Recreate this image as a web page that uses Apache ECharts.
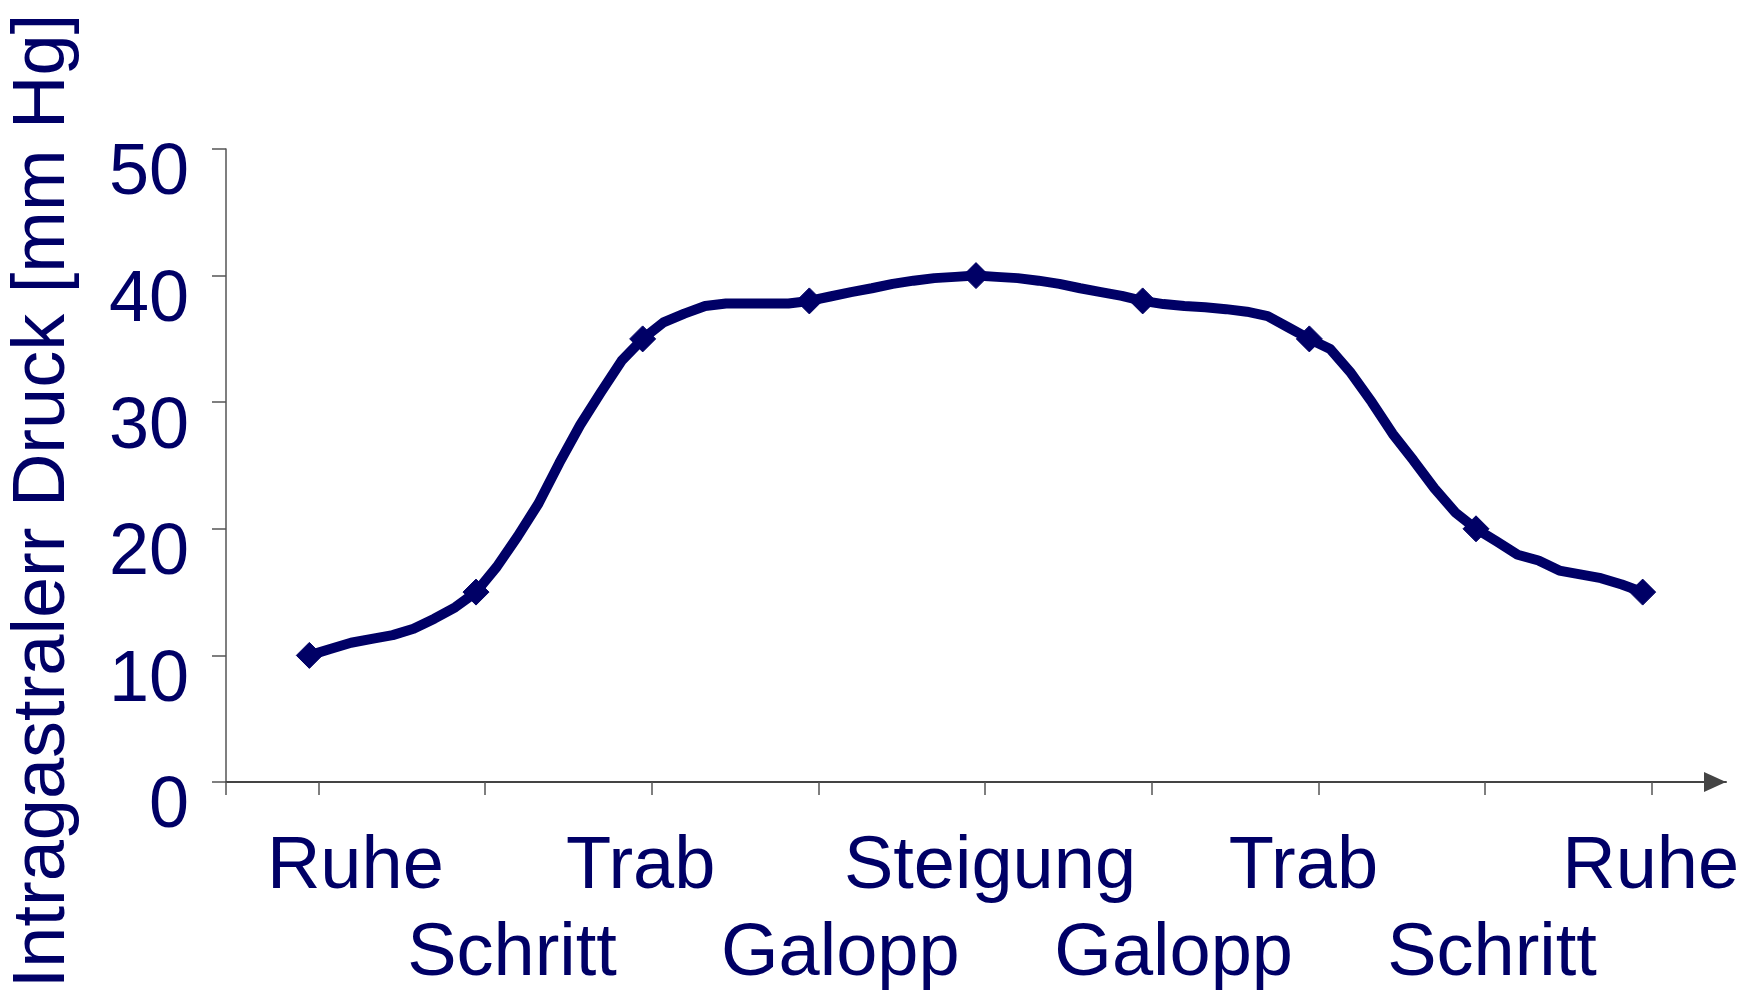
<!DOCTYPE html>
<html>
<head>
<meta charset="utf-8">
<script src="https://cdn.jsdelivr.net/npm/echarts@6/dist/echarts.min.js"></script>
<style>
  html, body { margin: 0; padding: 0; background: #ffffff; }
  #chart { width: 1757px; height: 994px; }
</style>
</head>
<body>
<div id="chart"></div>
<script>
// ---------------- data ----------------
const stages = ['Ruhe', 'Schritt', 'Trab', 'Galopp', 'Steigung', 'Galopp', 'Trab', 'Schritt', 'Ruhe'];
const samplesPerStage = 8;
const pressure = [
  10, 10.5, 11.0, 11.3, 11.6, 12.1, 12.9, 13.8,
  15, 17.0, 19.4, 22.0, 25.2, 28.2, 30.8, 33.3,
  35, 36.3, 37.0, 37.6, 37.8, 37.8, 37.8, 37.8,
  38, 38.35, 38.7, 39.0, 39.35, 39.6, 39.8, 39.9,
  40, 39.9, 39.8, 39.6, 39.35, 39.0, 38.7, 38.4,
  38, 37.75, 37.6, 37.5, 37.35, 37.15, 36.8, 35.9,
  35, 34.2, 32.3, 30.0, 27.5, 25.4, 23.2, 21.3,
  20, 19.0, 17.95, 17.5, 16.7, 16.4, 16.1, 15.6,
  15
];
const yAxisTitle = 'Intragastralerr Druck [mm Hg]';

// ---------------- layout / style ----------------
const NAVY = '#000066';
const AXIS = '#555555';
const FONT = 'Liberation Sans, Arial, sans-serif';
const labelShiftPx = [46, 36, -2, 31, 14, 31, -6, 16, 8];
const tickShift = 0.055;

const rich = {};
stages.forEach((s, i) => {
  const sh = labelShiftPx[i];
  rich['l' + i] = {
    fontSize: 74,
    fontFamily: FONT,
    color: NAVY,
    lineHeight: 86,
    padding: sh >= 0 ? [0, 0, 0, 2 * sh] : [0, -2 * sh, 0, 0]
  };
});

const seriesData = pressure.map((v, i) => [i / samplesPerStage, v]);
const stagePositions = stages.map((s, i) => i);
const topRow = stagePositions.filter(i => i % 2 === 0);
const bottomRow = stagePositions.filter(i => i % 2 === 1);

function stageLabel(value) {
  const i = Math.round(value);
  return '{l' + i + '|' + stages[i] + '}';
}

const baseX = {
  type: 'value',
  min: -0.5,
  max: 8.5,
  position: 'bottom',
  splitLine: { show: false }
};

const chart = echarts.init(document.getElementById('chart'), null, { renderer: 'canvas' });
chart.setOption({
  animation: false,
  backgroundColor: '#ffffff',
  grid: { left: 226, right: 31, top: 149, bottom: 212, containLabel: false },
  xAxis: [
    Object.assign({}, baseX, {
      axisLine: {
        show: true,
        onZero: false,
        symbol: ['none', 'triangle'],
        symbolSize: [20, 22],
        symbolOffset: [0, -11],
        lineStyle: { color: '#444444', width: 2 }
      },
      axisTick: {
        show: true,
        inside: false,
        length: 13,
        customValues: [-0.5].concat(stagePositions.map(p => p + tickShift)),
        lineStyle: { color: AXIS, width: 1.5 }
      },
      axisLabel: {
        show: true,
        showMinLabel: true,
        showMaxLabel: true,
        hideOverlap: false,
        customValues: topRow,
        margin: 43,
        formatter: stageLabel,
        rich: rich
      }
    }),
    Object.assign({}, baseX, {
      axisLine: { show: false, onZero: false },
      axisTick: { show: false },
      axisLabel: {
        show: true,
        showMinLabel: true,
        showMaxLabel: true,
        hideOverlap: false,
        customValues: bottomRow,
        margin: 130,
        formatter: stageLabel,
        rich: rich
      }
    })
  ],
  yAxis: {
    type: 'value',
    min: 0,
    max: 50,
    interval: 10,
    splitLine: { show: false },
    axisLine: { show: true, onZero: false, lineStyle: { color: AXIS, width: 1.5 } },
    axisTick: { show: true, inside: false, length: 14, lineStyle: { color: AXIS, width: 1.5 } },
    axisLabel: {
      show: true,
      margin: 37,
      fontSize: 72,
      fontFamily: FONT,
      color: NAVY,
      verticalAlign: 'top',
      lineHeight: 51
    }
  },
  graphic: [{
    type: 'text',
    x: 44,
    y: 501,
    rotation: Math.PI / 2,
    style: {
      text: yAxisTitle,
      fontSize: 74,
      fontFamily: FONT,
      fill: NAVY,
      align: 'center',
      verticalAlign: 'middle'
    }
  }],
  series: [{
    type: 'line',
    xAxisIndex: 0,
    data: seriesData,
    smooth: false,
    showAllSymbol: true,
    symbol: function (value, params) {
      return params.dataIndex % samplesPerStage === 0 ? 'diamond' : 'none';
    },
    symbolSize: 26,
    itemStyle: { color: NAVY, borderColor: NAVY, borderWidth: 1 },
    lineStyle: { color: NAVY, width: 10, cap: 'round', join: 'round' },
    emphasis: { disabled: true }
  }]
});
</script>
</body>
</html>
